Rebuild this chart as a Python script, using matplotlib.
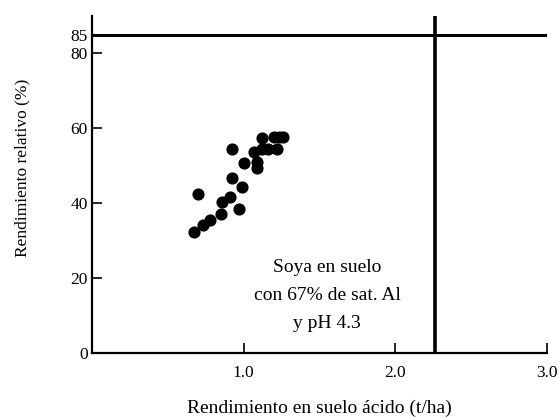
import matplotlib
matplotlib.use("Agg")
import matplotlib.pyplot as plt

plt.rcParams['font.family'] = ['Liberation Serif', 'DejaVu Serif']

# rendimiento en suelo acido (t/ha) vs rendimiento relativo (%)
x_vals = [0.67, 0.73, 0.78, 0.85, 0.86, 0.91, 0.70, 0.97, 0.99, 0.92,
          0.92, 1.00, 1.09, 1.09, 1.07, 1.12, 1.16, 1.22, 1.12, 1.20,
          1.23, 1.26]
y_vals = [32.3, 34.1, 35.5, 37.1, 40.3, 41.6, 42.4, 38.4, 44.3, 46.7,
          54.4, 50.7, 50.9, 49.3, 53.6, 54.4, 54.4, 54.4, 57.3, 57.6,
          57.6, 57.6]

y_ticks = [0, 20, 40, 60, 80, 85]
x_ticks = [1.0, 2.0, 3.0]
x_tick_labels = ["1.0", "2.0", "3.0"]
nivel_critico = 85
rend_critico = 2.26

fig = plt.figure(figsize=(5.59, 4.17), dpi=100)
ax = fig.add_axes([0.1646, 0.1535, 0.8139, 0.8081])

ax.scatter(x_vals, y_vals, s=60, color='black', zorder=3)

ax.axhline(nivel_critico, color='black', lw=2.2, zorder=2)
ax.axvline(rend_critico, color='black', lw=2.6, zorder=2)

ax.set_xlim(0, 3.0)
ax.set_ylim(0, 90)
ax.spines['top'].set_visible(False)
ax.spines['right'].set_visible(False)
ax.spines['left'].set_linewidth(1.6)
ax.spines['bottom'].set_linewidth(1.6)

ax.set_yticks(y_ticks)
ax.set_yticklabels([str(t) for t in y_ticks])
ax.set_xticks(x_ticks)
ax.set_xticklabels(x_tick_labels)
ax.tick_params(axis='both', direction='in', length=7, width=1.2,
               labelsize=12.5, pad=3)
ax.tick_params(axis='x', pad=9)

ax.text(1.55, 15.3, "Soya en suelo\ncon 67% de sat. Al\ny pH 4.3",
        ha='center', va='center', fontsize=14, linespacing=1.85)

ax.set_xlabel("Rendimiento en suelo ácido (t/ha)", fontsize=14)
ax.set_ylabel("Rendimiento relativo (%)", fontsize=12.5)
ax.xaxis.set_label_coords(0.50, -0.14)
ax.yaxis.set_label_coords(-0.135, 0.55)

fig.savefig("out.png", dpi=100)
